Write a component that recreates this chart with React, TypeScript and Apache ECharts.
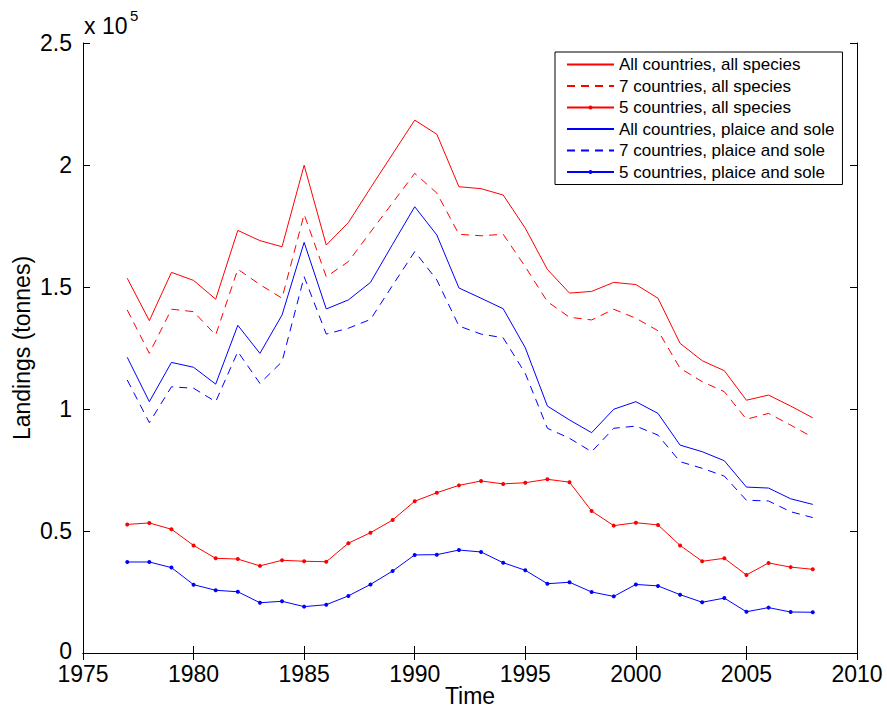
import React, { useEffect, useRef } from "react";
import * as echarts from "echarts";

const years = [1977,1978,1979,1980,1981,1982,1983,1984,1985,1986,1987,1988,1989,1990,1991,1992,1993,1994,1995,1996,1997,1998,1999,2000,2001,2002,2003,2004,2005,2006,2007,2008];

const allCountriesAllSpecies = [153600,136200,156000,152700,145000,173200,169000,166500,199900,167200,176400,190600,204500,218400,212600,191100,190300,187700,174100,157200,147500,148200,151900,151000,145400,126900,119800,115700,103600,105700,101200,96400];
const sevenCountriesAllSpecies = [140600,122800,140900,139900,130300,157300,151000,145400,179800,154200,160400,172500,184500,196600,188500,171600,171000,171600,158300,144000,137600,136500,140900,137200,132100,116700,111200,107100,95800,98200,93400,88400];
const fiveCountriesAllSpecies = [52700,53300,50700,44100,38800,38500,35700,38000,37600,37400,45000,49300,54500,62200,65700,68700,70500,69300,69800,71200,70000,58200,52200,53400,52500,44100,37600,38800,32000,36900,35200,34300];
const allCountriesPlaiceSole = [121200,103000,119100,117100,110200,134300,122800,138500,168300,141000,144700,151900,167500,182900,171300,149600,145400,141100,125100,101200,95500,90300,99900,103000,98200,85200,82500,78800,68000,67600,63200,60900];
const sevenCountriesPlaiceSole = [111900,94400,109100,108500,103000,123500,110500,119400,154200,130700,133100,136700,150700,164500,152900,134000,130700,129200,114600,92100,88000,82500,92100,93000,89300,78400,75700,72500,62600,62300,57900,55500];
const fiveCountriesPlaiceSole = [37300,37300,35000,28000,25700,25100,20600,21200,19000,19800,23400,28100,33600,40200,40300,42200,41400,37000,33900,28400,29000,25000,23200,28100,27500,23900,20800,22500,16900,18600,16800,16700];

const seriesNames = [
  "All countries, all species",
  "7 countries, all species",
  "5 countries, all species",
  "All countries, plaice and sole",
  "7 countries, plaice and sole",
  "5 countries, plaice and sole",
];

const FONT = "Liberation Sans, Arial, Helvetica, sans-serif";

function pairs(vals: number[]) {
  return years.map((y, i) => [y, vals[i]]);
}

export default function App() {
  const ref = useRef<HTMLDivElement>(null);
  useEffect(() => {
    if (!ref.current) return;
    const chart = echarts.init(ref.current, undefined, { renderer: "svg" });
    const RED = "#ff0000";
    const BLUE = "#0000ff";
    const mk = (name: string, vals: number[], color: string, kind: "solid" | "dashed" | "dot") => ({
      name,
      type: "line",
      data: pairs(vals),
      xAxisIndex: 0,
      yAxisIndex: 0,
      symbol: kind === "dot" ? "circle" : "none",
      symbolSize: 4,
      showSymbol: kind === "dot",
      itemStyle: { color },
      lineStyle: { color, width: 1, type: kind === "dashed" ? [8, 6] : "solid" },
      emphasis: { disabled: true },
    });
    const axisCommon = {
      type: "value",
      axisLine: { show: true, lineStyle: { color: "#000", width: 1 } },
      axisTick: { show: true, inside: true, length: 7, lineStyle: { color: "#000", width: 1 } },
      splitLine: { show: false },
    };
    chart.setOption({
      animation: false,
      textStyle: { fontFamily: FONT },
      grid: {
        left: 83,
        top: 43,
        width: 774,
        height: 610,
        containLabel: false,
        outerBoundsMode: "none",
      },
      xAxis: [
        {
          ...axisCommon,
          position: "bottom",
          min: 1975,
          max: 2010,
          interval: 5,
          axisLabel: {
            color: "#000",
            fontSize: 23,
            lineHeight: 20,
            margin: 11,
            fontFamily: FONT,
            formatter: (v: number) => String(v),
          },
          name: "Time",
          nameLocation: "middle",
          nameGap: 33,
          nameMoveOverlap: false,
          nameTextStyle: { color: "#000", fontSize: 23, lineHeight: 20, fontFamily: FONT },
        },
        {
          ...axisCommon,
          position: "top",
          min: 1975,
          max: 2010,
          interval: 5,
          axisLabel: { show: false },
        },
      ],
      yAxis: [
        {
          ...axisCommon,
          position: "left",
          min: 0,
          max: 250000,
          interval: 50000,
          axisLabel: {
            color: "#000",
            fontSize: 23,
            lineHeight: 20,
            margin: 11,
            fontFamily: FONT,
            formatter: (v: number) => (v === 0 ? "{z|0}" : String(v / 100000)),
            rich: {
              z: { fontSize: 23, lineHeight: 20, color: "#000", fontFamily: FONT, padding: [0, 0, 5, 0] },
            },
          },
          name: "Landings (tonnes)",
          nameLocation: "middle",
          nameGap: 51,
          nameMoveOverlap: false,
          nameTextStyle: { color: "#000", fontSize: 23, lineHeight: 20, fontFamily: FONT },
        },
        {
          ...axisCommon,
          position: "right",
          min: 0,
          max: 250000,
          interval: 50000,
          axisLabel: { show: false },
        },
      ],
      legend: {
        orient: "vertical",
        left: 555,
        top: 52,
        backgroundColor: "#fff",
        borderColor: "#000",
        borderWidth: 1,
        borderRadius: 0,
        padding: [4, 8, 4, 11],
        itemWidth: 47,
        itemHeight: 5,
        itemGap: 4.5,
        selectedMode: false,
        textStyle: { color: "#000", fontSize: 17, fontFamily: FONT },
        data: seriesNames.map((n) => ({
          name: n,
          itemStyle: n.startsWith("5") ? {} : { opacity: 0 },
        })),
      },
      graphic: [
        {
          type: "text",
          left: 84,
          top: 14,
          style: { text: "x 10", fontSize: 23, fontFamily: FONT, fill: "#000" },
        },
        {
          type: "text",
          left: 130,
          top: 8,
          style: { text: "5", fontSize: 15, fontFamily: FONT, fill: "#000" },
        },
      ],
      series: [
        mk(seriesNames[0], allCountriesAllSpecies, RED, "solid"),
        mk(seriesNames[1], sevenCountriesAllSpecies, RED, "dashed"),
        mk(seriesNames[2], fiveCountriesAllSpecies, RED, "dot"),
        mk(seriesNames[3], allCountriesPlaiceSole, BLUE, "solid"),
        mk(seriesNames[4], sevenCountriesPlaiceSole, BLUE, "dashed"),
        mk(seriesNames[5], fiveCountriesPlaiceSole, BLUE, "dot"),
      ],
    });
    return () => chart.dispose();
  }, []);
  return (
    <div
      ref={ref}
      style={{ position: "fixed", left: 0, top: 0, width: 887, height: 711, background: "#fff" }}
    />
  );
}
